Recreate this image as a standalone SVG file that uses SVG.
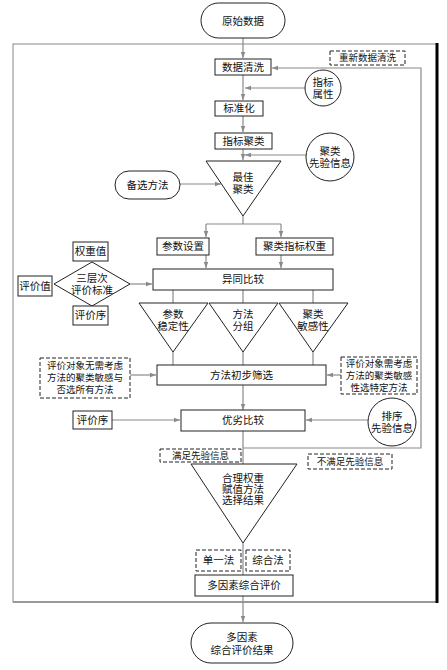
<svg xmlns="http://www.w3.org/2000/svg" width="447" height="670" viewBox="0 0 447 670">
<defs>
<marker id="ah" viewBox="0 0 8 8" refX="8" refY="4" markerWidth="6" markerHeight="6" orient="auto" markerUnits="userSpaceOnUse">
<path d="M0,1 L8,4 L0,7 Z" fill="#8a8a8a"/>
</marker>
<style>
.b{fill:#fff;stroke:#222;stroke-width:1}
.d{fill:#fff;stroke:#222;stroke-width:1;stroke-dasharray:4,2}
.c{fill:none;stroke:#8a8a8a;stroke-width:1.2}
.a{fill:none;stroke:#8a8a8a;stroke-width:1.2;marker-end:url(#ah)}
text{font-family:"Liberation Serif","Noto Sans CJK SC",serif;font-size:10.5px;fill:#111;text-anchor:middle;dominant-baseline:central}
.s{font-size:9.5px}
</style>
</defs>
<rect width="447" height="670" fill="#fff"/>
<g id="frame">
<rect x="13" y="44" width="424" height="558" fill="#fff" stroke="#888" stroke-width="1"/>
<line x1="13" y1="602" x2="437" y2="602" stroke="#999" stroke-width="2"/>
<line x1="437" y1="43" x2="437" y2="603" stroke="#000" stroke-width="3"/>
</g>
<g id="connectors">
<line class="a" x1="243" y1="38" x2="243" y2="58"/>
<line class="a" x1="243" y1="75" x2="243" y2="100"/>
<line class="a" x1="305" y1="88" x2="245" y2="88"/>
<line class="a" x1="243" y1="116" x2="243" y2="132"/>
<line class="a" x1="243" y1="149" x2="243" y2="160"/>
<line class="a" x1="306" y1="155" x2="245" y2="155"/>
<line class="a" x1="180" y1="184" x2="221" y2="184"/>
<polyline class="c" points="243,216 243,224"/>
<line class="c" x1="206" y1="224" x2="281" y2="224"/>
<line class="a" x1="206" y1="224" x2="206" y2="237"/>
<line class="a" x1="281" y1="224" x2="281" y2="237"/>
<line class="a" x1="206" y1="255" x2="206" y2="268"/>
<line class="a" x1="281" y1="255" x2="281" y2="268"/>
<line class="a" x1="130" y1="284" x2="152" y2="284"/>
<line class="c" x1="173" y1="290" x2="173" y2="303"/>
<line class="c" x1="243" y1="290" x2="243" y2="303"/>
<line class="c" x1="313" y1="290" x2="313" y2="303"/>
<line class="c" x1="173" y1="352" x2="173" y2="365"/>
<line class="c" x1="243" y1="352" x2="243" y2="365"/>
<line class="c" x1="313" y1="352" x2="313" y2="365"/>
<line class="a" x1="130" y1="375" x2="156" y2="375"/>
<line class="a" x1="341" y1="375" x2="327" y2="375"/>
<line class="a" x1="243" y1="385" x2="243" y2="410"/>
<line class="a" x1="112" y1="420" x2="180" y2="420"/>
<line class="a" x1="368" y1="420" x2="306" y2="420"/>
<line class="c" x1="243" y1="431" x2="243" y2="464"/>
<polyline class="a" points="243,448 421,448 421,68 272,68"/>
<line class="c" x1="243" y1="543" x2="243" y2="575"/>
<line class="a" x1="243" y1="596" x2="243" y2="622"/>
</g>
<g id="n_start"><rect class="b" x="201" y="3" width="84" height="35" rx="17.5"/><text x="243" y="21">原始数据</text></g>
<g id="n_clean"><rect class="b" x="215" y="59" width="56" height="16"/><text x="243" y="67">数据清洗</text></g>
<g id="n_reclean"><rect class="d" x="330" y="51" width="75" height="14"/><text class="s" x="367.5" y="58">重新数据清洗</text></g>
<g id="n_attr"><circle class="b" cx="323" cy="88" r="18"/><text x="323" y="82">指标</text><text x="323" y="94">属性</text></g>
<g id="n_std"><rect class="b" x="215" y="101" width="48" height="15"/><text x="239" y="108.5">标准化</text></g>
<g id="n_icluster"><rect class="b" x="215" y="133" width="57" height="16"/><text x="243.5" y="141">指标聚类</text></g>
<g id="n_cprior"><circle class="b" cx="330" cy="157" r="24"/><text x="330" y="151">聚类</text><text x="330" y="163">先验信息</text></g>
<g id="n_best"><polygon class="b" points="206,161 281,161 243,216"/><text x="243" y="177">最佳</text><text x="243" y="189">聚类</text></g>
<g id="n_alt"><rect class="b" x="115" y="171" width="65" height="28" rx="14"/><text x="147.5" y="185">备选方法</text></g>
<g id="n_param"><rect class="b" x="157" y="238" width="52" height="17"/><text x="183" y="246.5">参数设置</text></g>
<g id="n_cw"><rect class="b" x="256" y="238" width="77" height="17"/><text x="294.5" y="246.5">聚类指标权重</text></g>
<g id="n_weight"><rect class="b" x="73" y="242" width="35" height="19"/><text x="90.5" y="251.5">权重值</text></g>
<g id="n_three"><polygon class="b" points="54,284 92,262 130,284 92,306"/><text x="92" y="278">三层次</text><text x="92" y="290">评价标准</text></g>
<g id="n_evalv"><rect class="b" x="18" y="276" width="34" height="20"/><text x="35" y="286">评价值</text></g>
<g id="n_evalo"><rect class="b" x="73" y="306" width="35" height="19"/><text x="90.5" y="315.5">评价序</text></g>
<g id="n_cmp"><rect class="b" x="153" y="269" width="180" height="21"/><text x="243" y="279.5">异同比较</text></g>
<g id="n_t1"><polygon class="b" points="139,303 208,303 173,352"/><text x="173" y="314">参数</text><text x="173" y="326">稳定性</text></g>
<g id="n_t2"><polygon class="b" points="209,303 278,303 243,352"/><text x="243" y="314">方法</text><text x="243" y="326">分组</text></g>
<g id="n_t3"><polygon class="b" points="279,303 348,303 313,352"/><text x="313" y="314">聚类</text><text x="313" y="326">敏感性</text></g>
<g id="n_ldash"><rect class="d" x="40" y="358" width="90" height="40"/><text class="s" x="85" y="366">评价对象无需考虑</text><text class="s" x="85" y="378">方法的聚类敏感与</text><text class="s" x="85" y="390">否选所有方法</text></g>
<g id="n_screen"><rect class="b" x="157" y="365" width="169" height="20"/><text x="241.5" y="375">方法初步筛选</text></g>
<g id="n_rdash"><rect class="d" x="341" y="357" width="76" height="37"/><text class="s" x="379" y="364">评价对象需考虑</text><text class="s" x="379" y="376">方法的聚类敏感</text><text class="s" x="379" y="388">性选特定方法</text></g>
<g id="n_evalo2"><rect class="b" x="73" y="411" width="39" height="18"/><text x="92.5" y="420">评价序</text></g>
<g id="n_rank"><rect class="b" x="181" y="410" width="124" height="21"/><text x="243" y="420.5">优劣比较</text></g>
<g id="n_rprior"><circle class="b" cx="392" cy="422" r="24"/><text x="392" y="416">排序</text><text x="392" y="428">先验信息</text></g>
<g id="n_sat"><rect class="d" x="160" y="449" width="81" height="13"/><text class="s" x="200.5" y="455.5">满足先验信息</text></g>
<g id="n_unsat"><rect class="d" x="308" y="454" width="84" height="15"/><text class="s" x="350" y="461.5">不满足先验信息</text></g>
<g id="n_result"><polygon class="b" points="191,464 297,464 243,543"/><text x="243" y="478">合理权重</text><text x="243" y="489">赋值方法</text><text x="243" y="500">选择结果</text></g>
<g id="n_single"><rect class="d" x="196" y="550" width="45" height="21"/><text x="218.5" y="560.5">单一法</text></g>
<g id="n_comb"><rect class="d" x="246" y="550" width="44" height="21"/><text x="268" y="560.5">综合法</text></g>
<g id="n_multi"><rect class="b" x="195" y="575" width="98" height="21"/><text x="244" y="585.5">多因素综合评价</text></g>
<g id="n_end"><rect class="b" x="191" y="623" width="102" height="40" rx="20"/><text x="242" y="637">多因素</text><text x="242" y="650">综合评价结果</text></g>
</svg>
